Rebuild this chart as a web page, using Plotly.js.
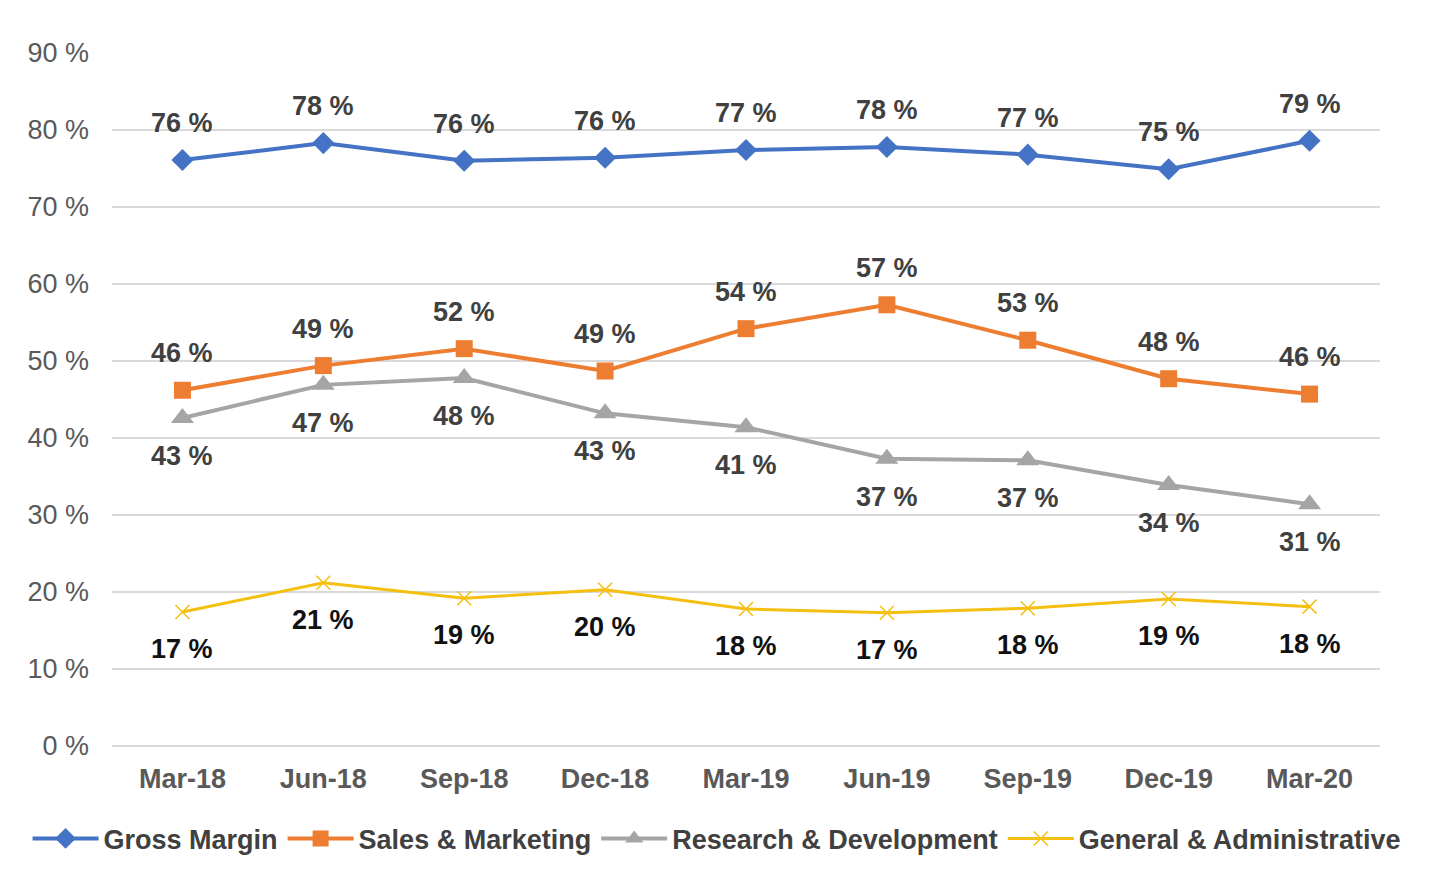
<!DOCTYPE html>
<html>
<head>
<meta charset="utf-8">
<script src="https://cdn.plot.ly/plotly-3.0.1.min.js"></script>
<style>
  html, body { margin: 0; padding: 0; background: #ffffff; }
  #chart { width: 1456px; height: 874px; }
</style>
</head>
<body>
<div id="chart"></div>
<script>
// Quarterly margin and operating-expense ratios (% of revenue)
const quarters = ['Mar-18', 'Jun-18', 'Sep-18', 'Dec-18', 'Mar-19', 'Jun-19', 'Sep-19', 'Dec-19', 'Mar-20'];
const grossMargin = [76.1, 78.3, 76.0, 76.4, 77.4, 77.8, 76.8, 74.9, 78.6];
const salesMarketing = [46.2, 49.4, 51.6, 48.7, 54.2, 57.3, 52.7, 47.7, 45.7];
const researchDev = [42.6, 46.9, 47.8, 43.2, 41.4, 37.3, 37.1, 33.9, 31.4];
const generalAdmin = [17.4, 21.2, 19.2, 20.3, 17.8, 17.3, 17.9, 19.1, 18.1];
const yTicks = [0, 10, 20, 30, 40, 50, 60, 70, 80, 90];

const FONT = 'Liberation Sans, Arial, sans-serif';
const FS = 27;

const series = [
  { name: 'Gross Margin', y: grossMargin, color: '#4472C4', symbol: 'diamond', size: 17, width: 4, labelShift: 37, labelColor: '#404040' },
  { name: 'Sales & Marketing', y: salesMarketing, color: '#ED7D31', symbol: 'square', size: 17, width: 4, labelShift: 37, labelColor: '#404040' },
  { name: 'Research & Development', y: researchDev, color: '#A5A5A5', symbol: 'triangle-up', size: 20, width: 4, labelShift: -38, labelColor: '#404040' },
  { name: 'General & Administrative', y: generalAdmin, color: '#F5BF0F', symbol: 'x-thin-open', size: 14, width: 3, labelShift: -37, labelColor: '#111111' }
];

const traces = series.map(s => ({
  type: 'scatter',
  mode: 'lines+markers',
  name: s.name,
  x: quarters,
  y: s.y,
  line: { color: s.color, width: s.width },
  marker: { symbol: s.symbol, size: s.size, color: s.color, line: { color: s.color, width: s.symbol === 'x-thin-open' ? 1.5 : 0 } },
  hoverinfo: 'x+y+name'
}));

// Value labels placed above / below each point
const annotations = [];
series.forEach(s => {
  s.y.forEach((v, i) => {
    annotations.push({
      x: quarters[i], y: v, xref: 'x', yref: 'y',
      text: Math.round(v) + ' %',
      showarrow: false,
      yshift: s.labelShift,
      font: { family: FONT, size: FS, color: s.labelColor, weight: 'bold' }
    });
  });
});

const layout = {
  width: 1456,
  height: 874,
  paper_bgcolor: '#ffffff',
  plot_bgcolor: '#ffffff',
  margin: { l: 112, r: 76, t: 53, b: 128, autoexpand: false },
  showlegend: true,
  legend: {
    orientation: 'h',
    x: -0.0666, xanchor: 'left',
    y: -0.134, yanchor: 'middle',
    font: { family: FONT, size: FS, color: '#404040', weight: 'bold' },
    itemwidth: 66,
    tracegroupgap: 0
  },
  xaxis: {
    type: 'category',
    range: [-0.5, 8.5],
    showgrid: false,
    zeroline: false,
    showline: false,
    ticks: '',
    tickfont: { family: FONT, size: FS, color: '#595959', weight: 'bold' },
    ticklabelstandoff: 14
  },
  yaxis: {
    range: [0, 90],
    tickvals: yTicks,
    ticktext: yTicks.map(t => t + ' %'),
    showgrid: true,
    gridcolor: '#D9D9D9',
    gridwidth: 2,
    zeroline: true,
    zerolinecolor: '#D9D9D9',
    zerolinewidth: 2,
    showline: false,
    ticks: '',
    tickfont: { family: FONT, size: FS, color: '#595959' },
    ticklabelstandoff: 22
  },
  annotations: annotations
};

Plotly.newPlot('chart', traces, layout, { displayModeBar: false, staticPlot: true });
</script>
</body>
</html>
